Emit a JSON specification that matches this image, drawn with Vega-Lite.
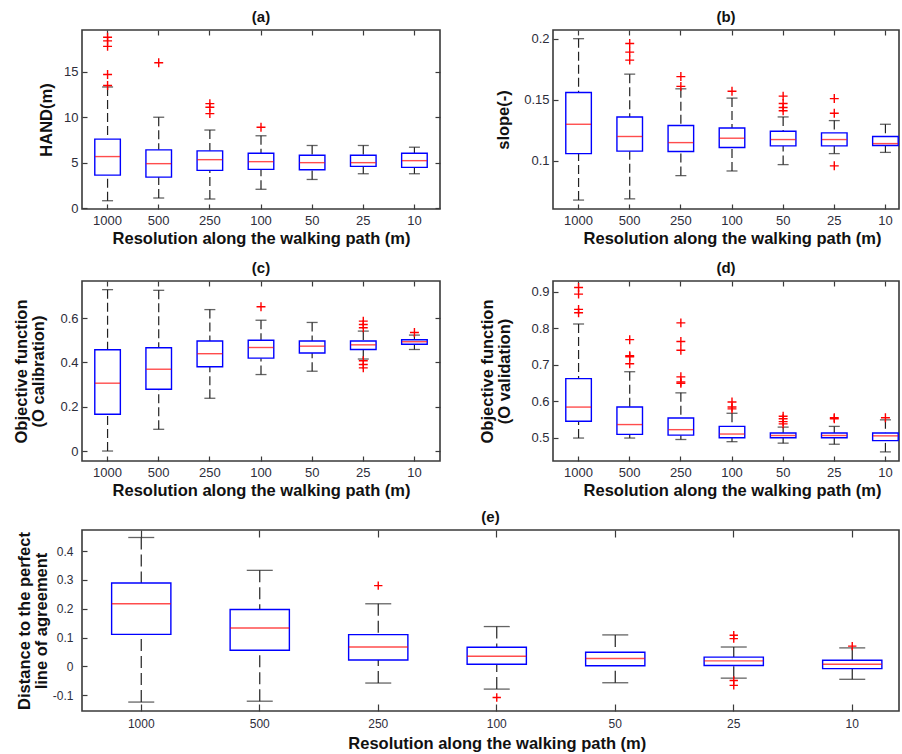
{
  "$schema": "https://vega.github.io/schema/vega-lite/v6.json",
  "padding": {"left": 13, "top": 9, "right": 0, "bottom": 0},
  "background": "white",
  "datasets": {
    "boxes": [
      {"panel":"a","res":"1000","lo":0.81,"q1":3.63,"med":5.67,"q3":7.59,"hi":13.33},
      {"panel":"a","res":"500","lo":1.11,"q1":3.41,"med":4.89,"q3":6.41,"hi":10.0},
      {"panel":"a","res":"250","lo":1.0,"q1":4.15,"med":5.33,"q3":6.3,"hi":8.59},
      {"panel":"a","res":"100","lo":2.07,"q1":4.26,"med":5.11,"q3":6.04,"hi":7.96},
      {"panel":"a","res":"50","lo":3.15,"q1":4.22,"med":5.0,"q3":5.81,"hi":6.89},
      {"panel":"a","res":"25","lo":3.78,"q1":4.59,"med":5.0,"q3":5.81,"hi":6.89},
      {"panel":"a","res":"10","lo":3.78,"q1":4.48,"med":5.22,"q3":6.04,"hi":6.7},
      {"panel":"b","res":"1000","lo":0.068,"q1":0.106,"med":0.130,"q3":0.156,"hi":0.200},
      {"panel":"b","res":"500","lo":0.069,"q1":0.108,"med":0.120,"q3":0.136,"hi":0.171},
      {"panel":"b","res":"250","lo":0.088,"q1":0.1077,"med":0.115,"q3":0.129,"hi":0.159},
      {"panel":"b","res":"100","lo":0.0918,"q1":0.111,"med":0.1186,"q3":0.127,"hi":0.1514},
      {"panel":"b","res":"50","lo":0.097,"q1":0.1123,"med":0.1175,"q3":0.1243,"hi":0.136},
      {"panel":"b","res":"25","lo":0.106,"q1":0.1123,"med":0.1175,"q3":0.123,"hi":0.133},
      {"panel":"b","res":"10","lo":0.107,"q1":0.1126,"med":0.1142,"q3":0.12,"hi":0.130},
      {"panel":"c","res":"1000","lo":0.0,"q1":0.166,"med":0.306,"q3":0.457,"hi":0.728},
      {"panel":"c","res":"500","lo":0.098,"q1":0.279,"med":0.369,"q3":0.466,"hi":0.725},
      {"panel":"c","res":"250","lo":0.238,"q1":0.38,"med":0.439,"q3":0.496,"hi":0.638},
      {"panel":"c","res":"100","lo":0.345,"q1":0.419,"med":0.467,"q3":0.50,"hi":0.59},
      {"panel":"c","res":"50","lo":0.36,"q1":0.442,"med":0.473,"q3":0.496,"hi":0.580},
      {"panel":"c","res":"25","lo":0.415,"q1":0.458,"med":0.479,"q3":0.496,"hi":0.541},
      {"panel":"c","res":"10","lo":0.458,"q1":0.482,"med":0.493,"q3":0.502,"hi":0.523},
      {"panel":"d","res":"1000","lo":0.499,"q1":0.545,"med":0.584,"q3":0.662,"hi":0.812},
      {"panel":"d","res":"500","lo":0.499,"q1":0.509,"med":0.536,"q3":0.584,"hi":0.681},
      {"panel":"d","res":"250","lo":0.495,"q1":0.507,"med":0.522,"q3":0.554,"hi":0.623},
      {"panel":"d","res":"100","lo":0.489,"q1":0.50,"med":0.510,"q3":0.531,"hi":0.567},
      {"panel":"d","res":"50","lo":0.485,"q1":0.50,"med":0.506,"q3":0.513,"hi":0.529},
      {"panel":"d","res":"25","lo":0.482,"q1":0.50,"med":0.506,"q3":0.513,"hi":0.531},
      {"panel":"d","res":"10","lo":0.461,"q1":0.492,"med":0.505,"q3":0.513,"hi":0.549},
      {"panel":"e","res":"1000","lo":-0.124,"q1":0.111,"med":0.217,"q3":0.289,"hi":0.447},
      {"panel":"e","res":"500","lo":-0.121,"q1":0.0557,"med":0.133,"q3":0.197,"hi":0.333},
      {"panel":"e","res":"250","lo":-0.058,"q1":0.022,"med":0.067,"q3":0.110,"hi":0.217},
      {"panel":"e","res":"100","lo":-0.079,"q1":0.007,"med":0.035,"q3":0.066,"hi":0.138},
      {"panel":"e","res":"50","lo":-0.057,"q1":0.002,"med":0.027,"q3":0.049,"hi":0.109},
      {"panel":"e","res":"25","lo":-0.041,"q1":0.003,"med":0.019,"q3":0.032,"hi":0.067},
      {"panel":"e","res":"10","lo":-0.045,"q1":-0.008,"med":0.007,"q3":0.021,"hi":0.064}
    ],
    "outliers": [
      {"panel":"a","res":"1000","value":13.5},{"panel":"a","res":"1000","value":14.7},{"panel":"a","res":"1000","value":17.8},{"panel":"a","res":"1000","value":18.4},{"panel":"a","res":"1000","value":18.8},
      {"panel":"a","res":"500","value":16.0},
      {"panel":"a","res":"250","value":10.4},{"panel":"a","res":"250","value":11.1},{"panel":"a","res":"250","value":11.5},
      {"panel":"a","res":"100","value":8.9},
      {"panel":"b","res":"500","value":0.1825},{"panel":"b","res":"500","value":0.189},{"panel":"b","res":"500","value":0.196},
      {"panel":"b","res":"250","value":0.161},{"panel":"b","res":"250","value":0.169},
      {"panel":"b","res":"100","value":0.157},
      {"panel":"b","res":"50","value":0.141},{"panel":"b","res":"50","value":0.1437},{"panel":"b","res":"50","value":0.147},{"panel":"b","res":"50","value":0.153},
      {"panel":"b","res":"25","value":0.139},{"panel":"b","res":"25","value":0.151},{"panel":"b","res":"25","value":0.096},
      {"panel":"c","res":"100","value":0.651},
      {"panel":"c","res":"25","value":0.556},{"panel":"c","res":"25","value":0.571},{"panel":"c","res":"25","value":0.586},{"panel":"c","res":"25","value":0.407},{"panel":"c","res":"25","value":0.39},{"panel":"c","res":"25","value":0.375},
      {"panel":"c","res":"10","value":0.535},
      {"panel":"d","res":"1000","value":0.843},{"panel":"d","res":"1000","value":0.852},{"panel":"d","res":"1000","value":0.894},{"panel":"d","res":"1000","value":0.912},
      {"panel":"d","res":"500","value":0.703},{"panel":"d","res":"500","value":0.722},{"panel":"d","res":"500","value":0.725},{"panel":"d","res":"500","value":0.769},
      {"panel":"d","res":"250","value":0.649},{"panel":"d","res":"250","value":0.653},{"panel":"d","res":"250","value":0.667},{"panel":"d","res":"250","value":0.740},{"panel":"d","res":"250","value":0.764},{"panel":"d","res":"250","value":0.815},
      {"panel":"d","res":"100","value":0.579},{"panel":"d","res":"100","value":0.584},{"panel":"d","res":"100","value":0.598},
      {"panel":"d","res":"50","value":0.538},{"panel":"d","res":"50","value":0.544},{"panel":"d","res":"50","value":0.552},{"panel":"d","res":"50","value":0.559},
      {"panel":"d","res":"25","value":0.552},{"panel":"d","res":"25","value":0.555},
      {"panel":"d","res":"10","value":0.5545},
      {"panel":"e","res":"250","value":0.280},
      {"panel":"e","res":"100","value":-0.108},
      {"panel":"e","res":"25","value":0.108},{"panel":"e","res":"25","value":0.096},{"panel":"e","res":"25","value":-0.049},{"panel":"e","res":"25","value":-0.066},
      {"panel":"e","res":"10","value":0.070}
    ]
  },
  "spacing": 9,
  "vconcat": [
    {
      "columns": 2,
      "align": "all",
      "bounds": "flush",
      "spacing": {"row": 71, "column": 113},
      "concat": [
        {
          "width": 358, "height": 179,
          "title": {"text": "(a)"},
          "resolve": {"axis": {"x": "independent", "y": "independent"}},
          "layer": [
            {"data": {"name": "boxes"}, "transform": [{"filter": "datum.panel === 'a'"}],
             "mark": {"type": "rule", "strokeDash": [9, 4], "color": "#222", "strokeWidth": 1.2},
             "encoding": {
               "x": {"field": "res", "type": "ordinal", "sort": ["1000","500","250","100","50","25","10"], "scale": {"type": "band", "paddingInner": 0, "paddingOuter": 0},
                     "axis": {"orient": "bottom", "title": "Resolution along the walking path (m)"}},
               "y": {"field": "lo", "type": "quantitative", "scale": {"domain": [-0.1, 19.6], "nice": false, "zero": false},
                     "axis": {"orient": "left", "title": "HAND(m)", "values": [0, 5, 10, 15], "labelExpr": "'' + datum.value", "titlePadding": 9}},
               "y2": {"field": "q1"}}},
            {"data": {"name": "boxes"}, "transform": [{"filter": "datum.panel === 'a'"}],
             "mark": {"type": "rule", "strokeDash": [9, 4], "color": "#222", "strokeWidth": 1.2},
             "encoding": {
               "x": {"field": "res", "type": "ordinal", "sort": ["1000","500","250","100","50","25","10"], "axis": {"orient": "top", "labels": false, "title": null}},
               "y": {"field": "hi", "type": "quantitative", "axis": {"orient": "right", "labels": false, "title": null, "values": [0, 5, 10, 15]}},
               "y2": {"field": "q3"}}},
            {"data": {"name": "boxes"}, "transform": [{"filter": "datum.panel === 'a'"}],
             "mark": {"type": "tick", "orient": "horizontal", "size": 11, "thickness": 1.3, "color": "#222"},
             "encoding": {"x": {"field": "res", "type": "ordinal", "sort": ["1000","500","250","100","50","25","10"], "axis": null}, "y": {"field": "lo", "type": "quantitative", "axis": null}}},
            {"data": {"name": "boxes"}, "transform": [{"filter": "datum.panel === 'a'"}],
             "mark": {"type": "tick", "orient": "horizontal", "size": 11, "thickness": 1.3, "color": "#222"},
             "encoding": {"x": {"field": "res", "type": "ordinal", "sort": ["1000","500","250","100","50","25","10"], "axis": null}, "y": {"field": "hi", "type": "quantitative", "axis": null}}},
            {"data": {"name": "boxes"}, "transform": [{"filter": "datum.panel === 'a'"}],
             "mark": {"type": "bar", "width": {"band": 0.5}, "fill": "white", "stroke": "#0000ff", "strokeWidth": 1.4},
             "encoding": {"x": {"field": "res", "type": "ordinal", "sort": ["1000","500","250","100","50","25","10"], "axis": null}, "y": {"field": "q1", "type": "quantitative", "axis": null}, "y2": {"field": "q3"}}},
            {"data": {"name": "boxes"}, "transform": [{"filter": "datum.panel === 'a'"}],
             "mark": {"type": "tick", "orient": "horizontal", "size": 25, "thickness": 1.4, "color": "#ff0000"},
             "encoding": {"x": {"field": "res", "type": "ordinal", "sort": ["1000","500","250","100","50","25","10"], "axis": null}, "y": {"field": "med", "type": "quantitative", "axis": null}}},
            {"data": {"name": "outliers"}, "transform": [{"filter": "datum.panel === 'a'"}],
             "mark": {"type": "point", "shape": "M-1,0L1,0M0,-1L0,1", "size": 80, "filled": false, "color": "#ff0000", "strokeWidth": 1.4, "opacity": 1},
             "encoding": {"x": {"field": "res", "type": "ordinal", "sort": ["1000","500","250","100","50","25","10"], "axis": null}, "y": {"field": "value", "type": "quantitative", "axis": null}}}
          ]
        },
        {
          "width": 346, "height": 179,
          "title": {"text": "(b)"},
          "resolve": {"axis": {"x": "independent", "y": "independent"}},
          "layer": [
            {"data": {"name": "boxes"}, "transform": [{"filter": "datum.panel === 'b'"}],
             "mark": {"type": "rule", "strokeDash": [9, 4], "color": "#222", "strokeWidth": 1.2},
             "encoding": {
               "x": {"field": "res", "type": "ordinal", "sort": ["1000","500","250","100","50","25","10"], "scale": {"type": "band", "paddingInner": 0, "paddingOuter": 0, "range": [0, 358]},
                     "axis": {"orient": "bottom", "title": "Resolution along the walking path (m)"}},
               "y": {"field": "lo", "type": "quantitative", "scale": {"domain": [0.0607, 0.2071], "nice": false, "zero": false},
                     "axis": {"orient": "left", "title": "slope(-)", "values": [0.1, 0.15, 0.2], "labelExpr": "'' + datum.value", "titlePadding": 12}},
               "y2": {"field": "q1"}}},
            {"data": {"name": "boxes"}, "transform": [{"filter": "datum.panel === 'b'"}],
             "mark": {"type": "rule", "strokeDash": [9, 4], "color": "#222", "strokeWidth": 1.2},
             "encoding": {
               "x": {"field": "res", "type": "ordinal", "sort": ["1000","500","250","100","50","25","10"], "axis": {"orient": "top", "labels": false, "title": null}},
               "y": {"field": "hi", "type": "quantitative", "axis": null},
               "y2": {"field": "q3"}}},
            {"data": {"name": "boxes"}, "transform": [{"filter": "datum.panel === 'b'"}],
             "mark": {"type": "tick", "orient": "horizontal", "size": 11, "thickness": 1.3, "color": "#222"},
             "encoding": {"x": {"field": "res", "type": "ordinal", "sort": ["1000","500","250","100","50","25","10"], "axis": null}, "y": {"field": "lo", "type": "quantitative", "axis": null}}},
            {"data": {"name": "boxes"}, "transform": [{"filter": "datum.panel === 'b'"}],
             "mark": {"type": "tick", "orient": "horizontal", "size": 11, "thickness": 1.3, "color": "#222"},
             "encoding": {"x": {"field": "res", "type": "ordinal", "sort": ["1000","500","250","100","50","25","10"], "axis": null}, "y": {"field": "hi", "type": "quantitative", "axis": null}}},
            {"data": {"name": "boxes"}, "transform": [{"filter": "datum.panel === 'b'"}],
             "mark": {"type": "bar", "width": {"band": 0.5}, "fill": "white", "stroke": "#0000ff", "strokeWidth": 1.4},
             "encoding": {"x": {"field": "res", "type": "ordinal", "sort": ["1000","500","250","100","50","25","10"], "axis": null}, "y": {"field": "q1", "type": "quantitative", "axis": null}, "y2": {"field": "q3"}}},
            {"data": {"name": "boxes"}, "transform": [{"filter": "datum.panel === 'b'"}],
             "mark": {"type": "tick", "orient": "horizontal", "size": 25, "thickness": 1.4, "color": "#ff0000"},
             "encoding": {"x": {"field": "res", "type": "ordinal", "sort": ["1000","500","250","100","50","25","10"], "axis": null}, "y": {"field": "med", "type": "quantitative", "axis": null}}},
            {"data": {"name": "outliers"}, "transform": [{"filter": "datum.panel === 'b'"}],
             "mark": {"type": "point", "shape": "M-1,0L1,0M0,-1L0,1", "size": 80, "filled": false, "color": "#ff0000", "strokeWidth": 1.4, "opacity": 1},
             "encoding": {"x": {"field": "res", "type": "ordinal", "sort": ["1000","500","250","100","50","25","10"], "axis": null}, "y": {"field": "value", "type": "quantitative", "axis": null}}}
          ]
        },
        {
          "width": 358, "height": 180,
          "title": {"text": "(c)"},
          "resolve": {"axis": {"x": "independent", "y": "independent"}},
          "layer": [
            {"data": {"name": "boxes"}, "transform": [{"filter": "datum.panel === 'c'"}],
             "mark": {"type": "rule", "strokeDash": [9, 4], "color": "#222", "strokeWidth": 1.2},
             "encoding": {
               "x": {"field": "res", "type": "ordinal", "sort": ["1000","500","250","100","50","25","10"], "scale": {"type": "band", "paddingInner": 0, "paddingOuter": 0},
                     "axis": {"orient": "bottom", "title": "Resolution along the walking path (m)"}},
               "y": {"field": "lo", "type": "quantitative", "scale": {"domain": [-0.045, 0.767], "nice": false, "zero": false},
                     "axis": {"orient": "left", "title": ["Objective function", "(O calibration)"], "values": [0, 0.2, 0.4, 0.6], "labelExpr": "'' + datum.value", "titlePadding": 13}},
               "y2": {"field": "q1"}}},
            {"data": {"name": "boxes"}, "transform": [{"filter": "datum.panel === 'c'"}],
             "mark": {"type": "rule", "strokeDash": [9, 4], "color": "#222", "strokeWidth": 1.2},
             "encoding": {
               "x": {"field": "res", "type": "ordinal", "sort": ["1000","500","250","100","50","25","10"], "axis": {"orient": "top", "labels": false, "title": null}},
               "y": {"field": "hi", "type": "quantitative", "axis": {"orient": "right", "labels": false, "title": null, "values": [0, 0.2, 0.4, 0.6]}},
               "y2": {"field": "q3"}}},
            {"data": {"name": "boxes"}, "transform": [{"filter": "datum.panel === 'c'"}],
             "mark": {"type": "tick", "orient": "horizontal", "size": 11, "thickness": 1.3, "color": "#222"},
             "encoding": {"x": {"field": "res", "type": "ordinal", "sort": ["1000","500","250","100","50","25","10"], "axis": null}, "y": {"field": "lo", "type": "quantitative", "axis": null}}},
            {"data": {"name": "boxes"}, "transform": [{"filter": "datum.panel === 'c'"}],
             "mark": {"type": "tick", "orient": "horizontal", "size": 11, "thickness": 1.3, "color": "#222"},
             "encoding": {"x": {"field": "res", "type": "ordinal", "sort": ["1000","500","250","100","50","25","10"], "axis": null}, "y": {"field": "hi", "type": "quantitative", "axis": null}}},
            {"data": {"name": "boxes"}, "transform": [{"filter": "datum.panel === 'c'"}],
             "mark": {"type": "bar", "width": {"band": 0.5}, "fill": "white", "stroke": "#0000ff", "strokeWidth": 1.4},
             "encoding": {"x": {"field": "res", "type": "ordinal", "sort": ["1000","500","250","100","50","25","10"], "axis": null}, "y": {"field": "q1", "type": "quantitative", "axis": null}, "y2": {"field": "q3"}}},
            {"data": {"name": "boxes"}, "transform": [{"filter": "datum.panel === 'c'"}],
             "mark": {"type": "tick", "orient": "horizontal", "size": 25, "thickness": 1.4, "color": "#ff0000"},
             "encoding": {"x": {"field": "res", "type": "ordinal", "sort": ["1000","500","250","100","50","25","10"], "axis": null}, "y": {"field": "med", "type": "quantitative", "axis": null}}},
            {"data": {"name": "outliers"}, "transform": [{"filter": "datum.panel === 'c'"}],
             "mark": {"type": "point", "shape": "M-1,0L1,0M0,-1L0,1", "size": 80, "filled": false, "color": "#ff0000", "strokeWidth": 1.4, "opacity": 1},
             "encoding": {"x": {"field": "res", "type": "ordinal", "sort": ["1000","500","250","100","50","25","10"], "axis": null}, "y": {"field": "value", "type": "quantitative", "axis": null}}}
          ]
        },
        {
          "width": 346, "height": 180,
          "title": {"text": "(d)"},
          "resolve": {"axis": {"x": "independent", "y": "independent"}},
          "layer": [
            {"data": {"name": "boxes"}, "transform": [{"filter": "datum.panel === 'd'"}],
             "mark": {"type": "rule", "strokeDash": [9, 4], "color": "#222", "strokeWidth": 1.2},
             "encoding": {
               "x": {"field": "res", "type": "ordinal", "sort": ["1000","500","250","100","50","25","10"], "scale": {"type": "band", "paddingInner": 0, "paddingOuter": 0, "range": [0, 358]},
                     "axis": {"orient": "bottom", "title": "Resolution along the walking path (m)"}},
               "y": {"field": "lo", "type": "quantitative", "scale": {"domain": [0.436, 0.930], "nice": false, "zero": false},
                     "axis": {"orient": "left", "title": ["Objective function", "(O validation)"], "values": [0.5, 0.6, 0.7, 0.8, 0.9], "labelExpr": "'' + datum.value", "titlePadding": 18}},
               "y2": {"field": "q1"}}},
            {"data": {"name": "boxes"}, "transform": [{"filter": "datum.panel === 'd'"}],
             "mark": {"type": "rule", "strokeDash": [9, 4], "color": "#222", "strokeWidth": 1.2},
             "encoding": {
               "x": {"field": "res", "type": "ordinal", "sort": ["1000","500","250","100","50","25","10"], "axis": {"orient": "top", "labels": false, "title": null}},
               "y": {"field": "hi", "type": "quantitative", "axis": null},
               "y2": {"field": "q3"}}},
            {"data": {"name": "boxes"}, "transform": [{"filter": "datum.panel === 'd'"}],
             "mark": {"type": "tick", "orient": "horizontal", "size": 11, "thickness": 1.3, "color": "#222"},
             "encoding": {"x": {"field": "res", "type": "ordinal", "sort": ["1000","500","250","100","50","25","10"], "axis": null}, "y": {"field": "lo", "type": "quantitative", "axis": null}}},
            {"data": {"name": "boxes"}, "transform": [{"filter": "datum.panel === 'd'"}],
             "mark": {"type": "tick", "orient": "horizontal", "size": 11, "thickness": 1.3, "color": "#222"},
             "encoding": {"x": {"field": "res", "type": "ordinal", "sort": ["1000","500","250","100","50","25","10"], "axis": null}, "y": {"field": "hi", "type": "quantitative", "axis": null}}},
            {"data": {"name": "boxes"}, "transform": [{"filter": "datum.panel === 'd'"}],
             "mark": {"type": "bar", "width": {"band": 0.5}, "fill": "white", "stroke": "#0000ff", "strokeWidth": 1.4},
             "encoding": {"x": {"field": "res", "type": "ordinal", "sort": ["1000","500","250","100","50","25","10"], "axis": null}, "y": {"field": "q1", "type": "quantitative", "axis": null}, "y2": {"field": "q3"}}},
            {"data": {"name": "boxes"}, "transform": [{"filter": "datum.panel === 'd'"}],
             "mark": {"type": "tick", "orient": "horizontal", "size": 25, "thickness": 1.4, "color": "#ff0000"},
             "encoding": {"x": {"field": "res", "type": "ordinal", "sort": ["1000","500","250","100","50","25","10"], "axis": null}, "y": {"field": "med", "type": "quantitative", "axis": null}}},
            {"data": {"name": "outliers"}, "transform": [{"filter": "datum.panel === 'd'"}],
             "mark": {"type": "point", "shape": "M-1,0L1,0M0,-1L0,1", "size": 80, "filled": false, "color": "#ff0000", "strokeWidth": 1.4, "opacity": 1},
             "encoding": {"x": {"field": "res", "type": "ordinal", "sort": ["1000","500","250","100","50","25","10"], "axis": null}, "y": {"field": "value", "type": "quantitative", "axis": null}}}
          ]
        }
      ]
    },
    {
      "width": 817, "height": 181,
      "title": {"text": "(e)"},
      "resolve": {"axis": {"x": "independent", "y": "independent"}},
      "layer": [
        {"data": {"name": "boxes"}, "transform": [{"filter": "datum.panel === 'e'"}],
         "mark": {"type": "rule", "strokeDash": [12, 5], "color": "#222", "strokeWidth": 1.2},
         "encoding": {
           "x": {"field": "res", "type": "ordinal", "sort": ["1000","500","250","100","50","25","10"], "scale": {"type": "band", "paddingInner": 0, "paddingOuter": 0, "range": [0, 829.5]},
                 "axis": {"orient": "bottom", "title": "Resolution along the walking path (m)", "labelFontSize": 12, "tickSize": -7, "labelPadding": 14, "titlePadding": 6}},
           "y": {"field": "lo", "type": "quantitative", "scale": {"domain": [-0.155, 0.473], "nice": false, "zero": false},
                 "axis": {"orient": "left", "title": ["Distance to the perfect", "line of agreement"], "values": [-0.1, 0, 0.1, 0.2, 0.3, 0.4], "labelExpr": "'' + datum.value", "labelFontSize": 12, "labelPadding": 14, "titlePadding": 3}},
           "y2": {"field": "q1"}}},
        {"data": {"name": "boxes"}, "transform": [{"filter": "datum.panel === 'e'"}],
         "mark": {"type": "rule", "strokeDash": [12, 5], "color": "#222", "strokeWidth": 1.2},
         "encoding": {
           "x": {"field": "res", "type": "ordinal", "sort": ["1000","500","250","100","50","25","10"], "axis": {"orient": "top", "labels": false, "title": null, "tickSize": -7}},
           "y": {"field": "hi", "type": "quantitative", "axis": null},
           "y2": {"field": "q3"}}},
        {"data": {"name": "boxes"}, "transform": [{"filter": "datum.panel === 'e'"}],
         "mark": {"type": "tick", "orient": "horizontal", "size": 26, "thickness": 1.3, "color": "#222"},
         "encoding": {"x": {"field": "res", "type": "ordinal", "sort": ["1000","500","250","100","50","25","10"], "axis": null}, "y": {"field": "lo", "type": "quantitative", "axis": null}}},
        {"data": {"name": "boxes"}, "transform": [{"filter": "datum.panel === 'e'"}],
         "mark": {"type": "tick", "orient": "horizontal", "size": 26, "thickness": 1.3, "color": "#222"},
         "encoding": {"x": {"field": "res", "type": "ordinal", "sort": ["1000","500","250","100","50","25","10"], "axis": null}, "y": {"field": "hi", "type": "quantitative", "axis": null}}},
        {"data": {"name": "boxes"}, "transform": [{"filter": "datum.panel === 'e'"}],
         "mark": {"type": "bar", "width": {"band": 0.5}, "fill": "white", "stroke": "#0000ff", "strokeWidth": 1.4},
         "encoding": {"x": {"field": "res", "type": "ordinal", "sort": ["1000","500","250","100","50","25","10"], "axis": null}, "y": {"field": "q1", "type": "quantitative", "axis": null}, "y2": {"field": "q3"}}},
        {"data": {"name": "boxes"}, "transform": [{"filter": "datum.panel === 'e'"}],
         "mark": {"type": "tick", "orient": "horizontal", "size": 59, "thickness": 1.4, "color": "#ff0000"},
         "encoding": {"x": {"field": "res", "type": "ordinal", "sort": ["1000","500","250","100","50","25","10"], "axis": null}, "y": {"field": "med", "type": "quantitative", "axis": null}}},
        {"data": {"name": "outliers"}, "transform": [{"filter": "datum.panel === 'e'"}],
         "mark": {"type": "point", "shape": "M-1,0L1,0M0,-1L0,1", "size": 70, "filled": false, "color": "#ff0000", "strokeWidth": 1.4, "opacity": 1},
         "encoding": {"x": {"field": "res", "type": "ordinal", "sort": ["1000","500","250","100","50","25","10"], "axis": null}, "y": {"field": "value", "type": "quantitative", "axis": null}}}
      ]
    }
  ],
  "config": {
    "view": {"stroke": "#3a3a3a", "strokeWidth": 1.6},
    "font": "Liberation Sans",
    "title": {"font": "Liberation Sans", "fontSize": 15, "fontWeight": "bold", "color": "#111", "frame": "group", "anchor": "middle", "offset": 4},
    "axis": {
      "grid": false, "domain": false,
      "tickColor": "#3a3a3a", "tickWidth": 1.2, "tickSize": -5,
      "labelFont": "Liberation Sans", "labelFontSize": 13, "labelColor": "#2d2d3a", "labelPadding": 9,
      "titleFont": "Liberation Sans", "titleFontSize": 16.5, "titleFontWeight": "bold", "titleColor": "#111", "titleLineHeight": 17
    },
    "axisX": {"labelAngle": 0, "titlePadding": 3, "bandPosition": 0.5, "labelPadding": 10}
  }
}
